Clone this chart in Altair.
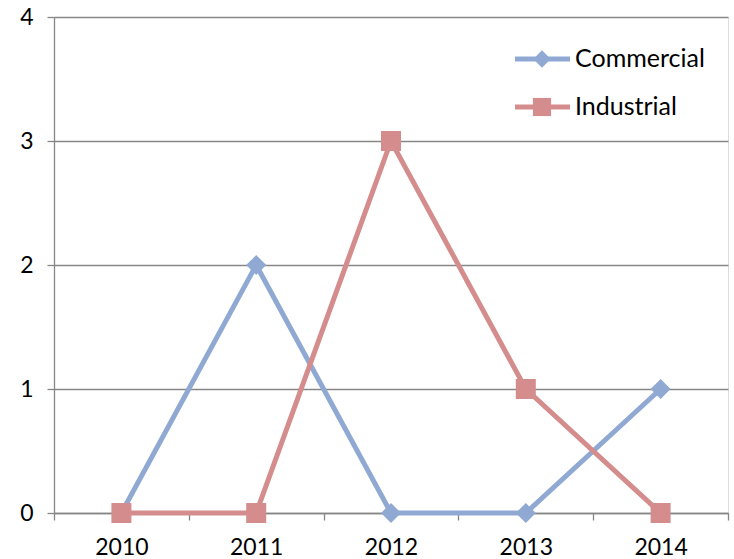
import altair as alt
import pandas as pd

years = ["2010", "2011", "2012", "2013", "2014"]
series_names = ["Commercial", "Industrial"]
commercial = [0, 2, 0, 0, 1]
industrial = [0, 0, 3, 1, 0]
colors = ["#8FA9D3", "#D48C8C"]
shapes = ["diamond", "square"]
y_ticks = [0, 1, 2, 3, 4]

rows = []
for s, vals in zip(series_names, [commercial, industrial]):
    for yr, v in zip(years, vals):
        rows.append({"year": yr, "value": v, "series": s})
df = pd.DataFrame(rows)
leg = pd.DataFrame({"series": series_names})

FONT = "Lato"
GRID = "#868686"

color_scale = alt.Scale(domain=series_names, range=colors)
shape_scale = alt.Scale(domain=series_names, range=shapes)

x_enc = alt.X(
    "year:O",
    scale=alt.Scale(type="band", paddingInner=0, paddingOuter=0),
    axis=alt.Axis(
        title=None, labelAngle=0, tickBand="extent", domainColor=GRID,
        tickColor=GRID, tickSize=7, labelPadding=16, labelFontSize=23,
        labelFont=FONT, labelColor="#000000", grid=False, domainWidth=1.3, tickWidth=1.3,
    ),
)
y_enc = alt.Y(
    "value:Q",
    scale=alt.Scale(domain=[0, 4], nice=False, zero=True),
    axis=alt.Axis(
        title=None, values=y_ticks, grid=True, gridColor=GRID, gridWidth=1.3,
        domainColor=GRID, domainWidth=1.3, tickColor=GRID, tickSize=7, tickWidth=1.3,
        labelPadding=14, labelFontSize=23, labelFont=FONT, labelColor="#000000",
        format="d",
    ),
)

base = alt.Chart(df)
lines = base.mark_line(strokeWidth=5).encode(
    x=x_enc, y=y_enc,
    color=alt.Color("series:N", scale=color_scale, legend=None),
    detail="series:N",
)
points = base.mark_point(filled=True, opacity=1, strokeWidth=0).encode(
    x=x_enc, y=y_enc,
    color=alt.Color("series:N", scale=color_scale, legend=None),
    shape=alt.Shape("series:N", scale=shape_scale, legend=None),
    size=alt.condition(alt.datum.series == "Industrial", alt.value(400), alt.value(400)),
)
data_layer = alt.layer(lines, points)

leg_y = alt.Y("series:N", scale=alt.Scale(type="point", domain=series_names, range=[42, 90], padding=0), axis=None)
leg_base = alt.Chart(leg)
leg_line = leg_base.mark_rule(strokeWidth=5).encode(
    x=alt.value(461), x2=alt.value(516), y=leg_y,
    color=alt.Color("series:N", scale=color_scale, legend=None),
)
leg_pt = leg_base.mark_point(filled=True, opacity=1, strokeWidth=0).encode(
    x=alt.value(488), y=leg_y,
    color=alt.Color("series:N", scale=color_scale, legend=None),
    shape=alt.Shape("series:N", scale=shape_scale, legend=None),
    size=alt.condition(alt.datum.series == "Industrial", alt.value(330), alt.value(300)),
)
leg_txt = leg_base.mark_text(align="left", baseline="middle", font=FONT, fontSize=25, color="#000000").encode(
    x=alt.value(521), y=leg_y, text="series:N",
)
legend_layer = alt.layer(leg_line, leg_pt, leg_txt)

chart = (
    alt.layer(data_layer, legend_layer)
    .resolve_scale(y="independent")
    .properties(
        width=674, height=496,
        padding={"left": 54, "top": 17, "right": 6, "bottom": 46},
        autosize=alt.AutoSizeParams(type="none"),
    )
    .configure_view(stroke=None)
    .configure(background="#FFFFFF")
)

chart.save("out.html", embed_options={"renderer": "svg", "actions": False})
